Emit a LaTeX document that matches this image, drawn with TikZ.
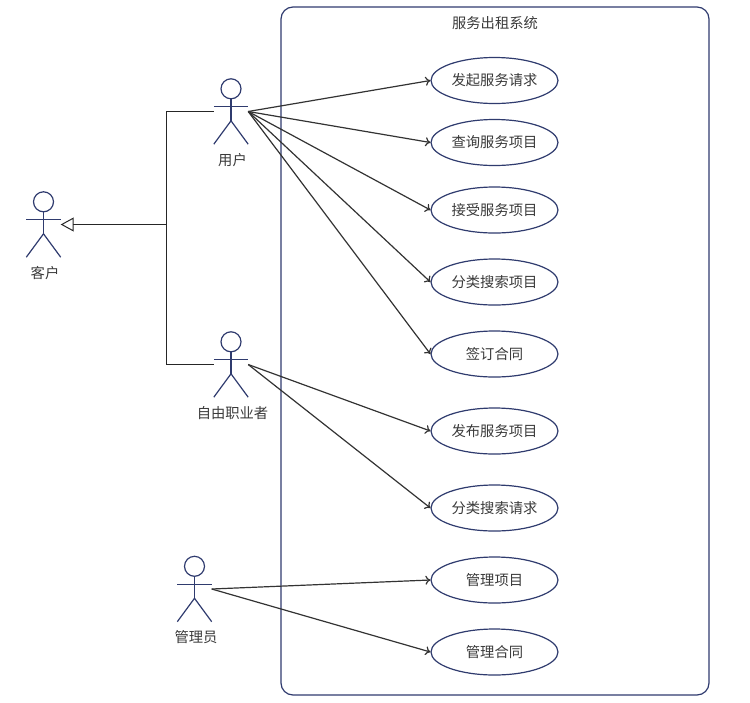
\documentclass[tikz,border=0pt]{standalone}
\usepackage{fontspec}
\setmainfont{Noto Sans CJK SC}
\usetikzlibrary{arrows,arrows.meta,positioning,calc,shapes.geometric}
\definecolor{navy}{HTML}{2F3B6E}
\definecolor{txtgray}{HTML}{3A3A3A}
\tikzset{
  usecase/.style={draw=navy, line width=1.2pt, ellipse, fill=white, minimum width=127pt, minimum height=46pt, inner sep=0pt, text=txtgray, font=\fontsize{14.3}{14.3}\selectfont},
  actorbox/.style={inner sep=0pt, minimum width=34pt, minimum height=65pt},
  actorline/.style={draw=navy, line width=1.2pt},
  actorname/.style={text=txtgray, inner sep=0pt, font=\fontsize{14.3}{14.3}\selectfont},
  assoc/.style={draw=black!80, line width=1.2pt, -{To[length=5pt,width=9pt]}},
  inherit/.style={draw=black!85, line width=1pt}
}
\newcommand{\actorman}[4]{
\node [actorbox] (#1) at (#2,#3) {};
\draw [actorline] ($(#1.north)+(0,-10)$) circle (10pt);
\draw [actorline] ($(#1.north)+(0,-20)$) -- ($(#1.north)+(0,-42)$);
\draw [actorline] ($(#1.north west)+(0,-28)$) -- ($(#1.north east)+(0,-28)$);
\draw [actorline] (#1.south west) -- ($(#1.north)+(0,-42)$) -- (#1.south east);
\node [actorname, below=9pt of #1, xshift=1.5pt] (#1name) {#4};
}
\begin{document}
\begin{tikzpicture}[x=1pt,y=1pt]
\useasboundingbox (0,0) rectangle (750,-702);
\node [draw=navy, line width=1.2pt, rounded corners=12pt, minimum width=428pt, minimum height=688pt, inner sep=0pt] (system) at (495,-351) {};
\node [text=txtgray, inner sep=0pt, font=\fontsize{14.3}{14.3}\selectfont] (systemname) at (495,-23) {服务出租系统};

\actorman{client}{43.5}{-224.5}{客户}
\actorman{user}{231}{-111.5}{用户}
\actorman{freelancer}{231}{-364.5}{自由职业者}
\actorman{admin}{194.5}{-589}{管理员}

\node [usecase] (case1) at (494.5,-80.5) {发起服务请求};
\node [usecase] (case2) at (494.5,-142.5) {查询服务项目};
\node [usecase] (case3) at (494.5,-210) {接受服务项目};
\node [usecase] (case4) at (494.5,-282) {分类搜索项目};
\node [usecase] (case5) at (494.5,-354) {签订合同};
\node [usecase] (case6) at (494.5,-431) {发布服务项目};
\node [usecase] (case7) at (494.5,-508) {分类搜索请求};
\node [usecase] (case8) at (494.5,-580) {管理项目};
\node [usecase] (case9) at (494.5,-652) {管理合同};

\coordinate (branch) at (166.5,-224.5);
\draw [inherit] (user.west) -| (branch);
\draw [inherit] (freelancer.west) -| (branch);
\draw [inherit, -{Triangle[open,length=13pt,width=14pt]}] (branch) -- (client.east);

\foreach \i in {1,...,5} \draw [assoc] (user.east) -- (case\i.west);
\foreach \i in {6,7} \draw [assoc] (freelancer.east) -- (case\i.west);
\foreach \i in {8,9} \draw [assoc] (admin.east) -- (case\i.west);
\end{tikzpicture}
\end{document}
